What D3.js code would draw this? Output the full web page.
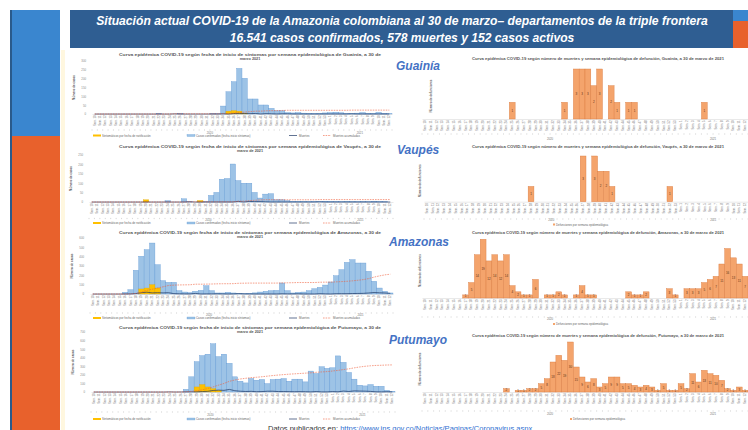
<!DOCTYPE html>
<html>
<head>
<meta charset="utf-8">
<script src="https://cdn.jsdelivr.net/npm/d3@7"></script>
<style>
  body { margin: 0; background: #fff; }
  svg { display: block; font-family: 'Liberation Sans', Arial, sans-serif; }
</style>
</head>
<body>
<svg id="slide" width="748" height="430"></svg>
<script>
// semanas epidemiologicas: 2020 SE10 .. 2021 SE12
var weeks = [10,11,12,13,14,15,16,17,18,19,20,21,22,23,24,25,26,27,28,29,30,31,32,33,34,35,36,37,38,39,40,41,42,43,44,45,46,47,48,49,50,51,52,53,
             1,2,3,4,5,6,7,8,9,10,11,12];
var years = ["2020", "2021"];

var guainiaCasos = [0,0,0,0,0,0,0,0,0,0,0,0,3,0,0,0,3,0,0,0,0,0,3,1,
                    45,126,183,258,202,85,85,51,51,32,19,19,
                    8,6,8,5,4,3,4,6,8,10,7,4,3,5,8,4,3,9,4,2];
var guainiaSint = [0,0,0,0,0,0,0,0,0,0,0,0,0,0,0,0,0,0,0,0,0,0,0,0,0,16,19,16,5,
                   0,0,0,0,0,0,0,0,0,0,0,0,0,0,0,0,0,0,0,0,0,0,0,0,0,0,0];
var guainiaMuertes = [0,0,0,0,0,0,0,0,0,0,0,0,0,0,0,1,0,0,0,0,0,0,0,0,1,0,3,3,3,2,3,0,2,1,0,1,1,
                      0,0,0,0,0,0,0,0,0,0,0,1,0,0,0,0,0,0,0];
var guainiaAcum = [0,0,0,0,0,0,0,0,0,0,0,0,0,0,0,1,1,1,1,1,1,1,1,1,2,2,5,8,11,13,16,16,18,19,19,20,
                   21,21,21,21,21,21,21,21,21,21,21,21,22,22,22,22,22,22,22,22];

var vaupesCasos = [0,0,0,0,0,0,0,0,0,0,2,0,0,0,7,0,0,17,2,0,3,2,
                   35,51,121,125,202,114,100,100,51,21,42,44,12,12,7,
                   4,3,3,2,3,2,4,3,2,2,3,2,1,2,1,4,2,1,0];
var vaupesSint = [0,0,0,0,0,0,0,0,0,0,12,0,0,0,0,0,0,0,0,0,8,
                  0,0,0,0,0,0,0,0,0,0,0,0,0,0,0,0,0,0,0,0,0,0,0,0,0,0,0,0,0,0,0,0,0,0,0];
var vaupesMuertes = [0,0,0,0,0,0,0,0,0,0,0,0,0,0,0,0,0,0,1,0,0,0,0,0,0,0,0,3,0,3,2,2,1,
                     0,0,0,0,0,0,0,0,0,1,0,0,0,0,0,0,0,0,0,0,0,0,0];
var vaupesAcum = [0,0,0,0,0,0,0,0,0,0,0,0,0,0,0,0,0,0,1,1,1,1,1,1,1,1,1,4,4,7,9,11,
                  12,12,12,12,12,12,12,12,12,12,13,13,13,13,13,13,13,13,13,13,13,13,13,13];

var amazonasCasos = [0,0,0,0,0,0,18,46,254,404,475,546,314,143,125,125,
                     36,21,15,29,39,89,36,11,11,18,11,
                     6,5,8,12,21,29,36,39,118,36,11,18,21,36,57,71,96,129,196,261,339,368,332,332,243,136,64,29,11];
var amazonasSint = [0,0,0,0,0,0,0,0,0,54,64,100,64,
                    0,0,0,0,0,0,0,0,0,0,0,0,0,0,0,0,0,0,0,0,0,0,0,0,0,0,0,0,0,0,0,0,0,0,0,0,0,0,0,0,0,0,0];
var amazonasMuertes = [0,0,0,0,0,0,0,1,5,14,19,12,14,12,14,4,2,1,1,6,0,1,1,2,1,0,1,4,1,1,
                       0,0,0,0,0,2,1,1,2,0,0,0,3,1,0,3,3,3,5,6,7,11,16,13,11,7];
var amazonasAcum = [0,0,0,0,0,0,0,1,6,20,39,51,65,77,91,95,97,98,99,105,105,106,107,109,110,110,111,115,116,117,
                    117,117,117,117,117,119,120,121,123,123,123,123,126,127,127,130,133,136,141,147,154,165,181,194,205,212];

var putumayoCasos = [0,0,0,0,0,0,0,0,0,0,0,0,0,0,0,0,0,
                     31,177,354,425,441,563,413,441,335,177,126,106,157,138,146,98,146,150,157,126,150,150,118,
                     244,216,295,276,283,421,346,228,150,79,71,87,67,67,20,8];
var putumayoSint = [0,0,0,0,0,0,0,0,0,0,0,0,0,0,0,0,0,0,0,59,87,59,39,20,
                    0,0,0,0,0,0,0,0,0,0,0,0,0,0,0,0,0,0,0,0,0,0,0,0,0,0,0,0,0,0,0,0];
var putumayoMuertes = [0,0,0,0,0,0,0,0,0,0,0,0,0,0,2,0,1,1,2,2,5,8,18,22,19,30,15,9,6,8,3,5,9,9,5,5,4,3,4,3,1,5,1,1,5,2,
                       11,6,13,11,10,7,2,1,3,1];
var putumayoAcum = [0,0,0,0,0,0,0,0,0,0,0,0,0,0,0,0,0,
                    3,8,15,25,40,60,80,100,125,140,152,160,168,172,178,185,192,198,203,208,212,216,220,224,
                    230,234,238,245,252,262,270,282,292,300,306,310,312,315,316];

var svg = d3.select("#slide");
var split = weeks.indexOf(1);
var idx = d3.range(weeks.length);

// ---- decoration of the slide ----
svg.append("rect").attr("x", 10).attr("y", 10).attr("width", 2).attr("height", 420).attr("fill", "#2a5a8b");
svg.append("rect").attr("x", 12).attr("y", 10).attr("width", 48).attr("height", 126).attr("fill", "#3a86cf");
svg.append("rect").attr("x", 12).attr("y", 136).attr("width", 48).attr("height", 294).attr("fill", "#e8612c");
svg.append("rect").attr("x", 61).attr("y", 50).attr("width", 4).attr("height", 380).attr("fill", "#fff7df");
svg.append("rect").attr("x", 70).attr("y", 10).attr("width", 663).attr("height", 38).attr("fill", "#2f5e92");
svg.append("rect").attr("x", 733).attr("y", 10).attr("width", 15).attr("height", 11).attr("fill", "#3a86cf");
svg.append("rect").attr("x", 733).attr("y", 21).attr("width", 15).attr("height", 27).attr("fill", "#e8612c");

// titulo: fuente condensada simulada con escala horizontal
var head = svg.append("g")
    .attr("fill", "#fff")
    .attr("font-family", "'Liberation Sans Narrow', 'Arial Narrow', 'Liberation Sans', sans-serif")
    .attr("font-weight", "bold")
    .attr("font-style", "italic")
    .attr("font-size", 13.5)
    .attr("text-anchor", "middle");
[["Situación actual COVID-19 de la Amazonia colombiana al 30 de marzo– departamentos de la triple frontera", 25, 612],
 ["16.541 casos confirmados, 578 muertes y 152 casos activos", 42, 345]].forEach(function(t){
  var el = head.append("text").attr("x", 0).attr("y", 0).text(t[0]);
  var s = t[2] / el.node().getComputedTextLength();
  el.attr("transform", "translate(402," + t[1] + ") scale(" + s + ",1)");
});

function categoryAxis(g, x, base, cfg){
  var ax = g.append("g")
      .attr("transform", "translate(0," + base + ")")
      .call(d3.axisBottom(x).tickSize(0).tickFormat(function(i){ return "Sem. " + weeks[i]; }));
  ax.select(".domain").attr("stroke", "#c8c8c8").attr("stroke-width", 0.4);
  ax.selectAll("text")
      .attr("font-size", 2.8)
      .attr("fill", "#777")
      .attr("transform", "rotate(-90)")
      .attr("x", -1.5).attr("y", 0).attr("dy", "0.35em")
      .style("text-anchor", "end");

  g.selectAll(".sep").data(d3.range(weeks.length + 1)).join("line")
      .attr("x1", function(i){ return x.range()[0] + i * x.step(); })
      .attr("x2", function(i){ return x.range()[0] + i * x.step(); })
      .attr("y1", cfg.dashY - 0.6).attr("y2", cfg.dashY + 0.6)
      .attr("stroke", "#999").attr("stroke-width", 0.4);

  var spans = [[0, split], [split, weeks.length]];
  g.selectAll(".yr").data(years).join("text")
      .attr("x", function(d, k){ return (x(spans[k][0]) + x(spans[k][1] - 1) + x.bandwidth()) / 2; })
      .attr("y", cfg.yearY)
      .attr("text-anchor", "middle")
      .attr("font-size", 2.8)
      .attr("fill", "#777")
      .text(function(d){ return d; });
}

function smallTitle(g, lines, cx, y, width){
  lines.forEach(function(t, k){
    var el = g.append("text").attr("x", cx).attr("y", y + k * 4)
        .attr("text-anchor", "middle").attr("font-size", 3.8).attr("font-weight", "bold")
        .attr("fill", "#555").text(t);
    if (k === 0) el.attr("textLength", width).attr("lengthAdjust", "spacingAndGlyphs");
  });
}

// ---- casos (izquierda) ----
function casesChart(cfg){
  var g = svg.append("g");
  var x = d3.scaleBand().domain(idx).range([cfg.x0, cfg.x1]);
  var y = d3.scaleLinear().domain([0, cfg.ymax]).range([cfg.base, cfg.top]);

  smallTitle(g, ["Curva epidémica COVID-19 según fecha de inicio de síntomas por semana epidemiológica de " + cfg.name + ", a 30 de",
                 cfg.name === "Guainía" ? "marzo 2021" : "marzo de 2021"], 250, cfg.titleY, 262);

  var ya = g.append("g")
      .attr("transform", "translate(" + (cfg.x0 - 6) + ",0)")
      .call(d3.axisLeft(y).tickValues(d3.range(0, cfg.ymax + 1, cfg.step)).tickSize(0).tickPadding(0));
  ya.select(".domain").remove();
  ya.selectAll("text").attr("font-size", 2.8).attr("fill", "#888");

  g.append("text")
      .attr("transform", "translate(" + (cfg.x0 - 17) + "," + ((cfg.top + cfg.base) / 2) + ") rotate(-90)")
      .attr("text-anchor", "middle").attr("font-size", 3).attr("font-weight", "bold").attr("fill", "#555")
      .text("Número de casos");

  categoryAxis(g, x, cfg.base, cfg);

  g.selectAll(".casos").data(cfg.casos.map(function(v, i){ return {i: i, v: v}; }).filter(function(d){ return d.v > 0; }))
    .join("rect")
      .attr("x", function(d){ return x(d.i); })
      .attr("y", function(d){ return y(d.v); })
      .attr("width", x.bandwidth())
      .attr("height", function(d){ return y(0) - y(d.v); })
      .attr("fill", "#9dc3e6").attr("stroke", "#5f97d3").attr("stroke-width", 0.35);

  g.selectAll(".sint").data(cfg.sint.map(function(v, i){ return {i: i, v: v}; }).filter(function(d){ return d.v > 0; }))
    .join("rect")
      .attr("x", function(d){ return x(d.i); })
      .attr("y", function(d){ return y(d.v); })
      .attr("width", x.bandwidth())
      .attr("height", function(d){ return y(0) - y(d.v); })
      .attr("fill", "#ffc000").attr("stroke", "#e0a800").attr("stroke-width", 0.3);

  var line = d3.line()
      .x(function(d, i){ return x(i) + x.bandwidth() / 2; })
      .y(function(d){ return y(d); });

  g.append("path").datum(cfg.muertes).attr("d", line)
      .attr("fill", "none").attr("stroke", "#203864").attr("stroke-width", 0.7);
  g.append("path").datum(cfg.acum).attr("d", line)
      .attr("fill", "none").attr("stroke", "#f0603c").attr("stroke-width", 0.6).attr("stroke-dasharray", "1.6,1");

  var ly = cfg.legendY;
  var lg = g.append("g").attr("font-size", 2.9).attr("fill", "#666");
  lg.append("rect").attr("x", 93).attr("y", ly - 1).attr("width", 8).attr("height", 2).attr("fill", "#ffc000");
  lg.append("text").attr("x", 102).attr("y", ly + 1).text("Sintomáticos por fecha de notificación");
  lg.append("rect").attr("x", 187).attr("y", ly - 1).attr("width", 8).attr("height", 2).attr("fill", "#9dc3e6").attr("stroke", "#5f97d3").attr("stroke-width", 0.3);
  lg.append("text").attr("x", 196).attr("y", ly + 1).text("Casos confirmados (fecha inicio síntomas)");
  lg.append("line").attr("x1", 289).attr("x2", 297).attr("y1", ly).attr("y2", ly).attr("stroke", "#203864").attr("stroke-width", 0.7);
  lg.append("text").attr("x", 299).attr("y", ly + 1).text("Muertes");
  lg.append("line").attr("x1", 323).attr("x2", 331).attr("y1", ly).attr("y2", ly).attr("stroke", "#f0603c").attr("stroke-width", 0.6).attr("stroke-dasharray", "1.6,1");
  lg.append("text").attr("x", 333).attr("y", ly + 1).text("Muertes acumuladas");
}

// ---- defunciones (derecha) ----
function deathsChart(cfg){
  var g = svg.append("g");
  var x = d3.scaleBand().domain(idx).range([cfg.x0, cfg.x1]);
  var y = d3.scaleLinear().domain([0, d3.max(cfg.muertes)]).range([cfg.base, cfg.top]);

  smallTitle(g, ["Curva epidémica COVID-19 según número de muertes y semana epidemiológica de defunción, " + cfg.name + ", a 30 de marzo de 2021"],
             598, cfg.titleY, 252);

  g.append("text")
      .attr("transform", "translate(" + cfg.labelX + "," + ((cfg.top + cfg.base) / 2 + 2) + ") rotate(-90)")
      .attr("text-anchor", "middle").attr("font-size", 2.9).attr("font-weight", "bold").attr("fill", "#666")
      .text("Número de defunciones");

  categoryAxis(g, x, cfg.base, cfg);

  var data = cfg.muertes.map(function(v, i){ return {i: i, v: v}; }).filter(function(d){ return d.v > 0; });
  g.selectAll(".def").data(data).join("rect")
      .attr("x", function(d){ return x(d.i); })
      .attr("y", function(d){ return y(d.v); })
      .attr("width", x.bandwidth())
      .attr("height", function(d){ return y(0) - y(d.v); })
      .attr("fill", "#f4a46c").attr("stroke", "#d9793e").attr("stroke-width", 0.4);

  g.selectAll(".lbl").data(data).join("text")
      .attr("x", function(d){ return x(d.i) + x.bandwidth() / 2; })
      .attr("y", function(d){ return (y(d.v) + y(0)) / 2 + 1; })
      .attr("text-anchor", "middle").attr("font-size", 3).attr("fill", "#5a3215")
      .text(function(d){ return d.v; });

  if (cfg.legendY) {
    var lg = g.append("g").attr("font-size", 2.9).attr("fill", "#666");
    lg.append("rect").attr("x", cfg.legendX).attr("y", cfg.legendY - 1).attr("width", 2).attr("height", 2).attr("fill", "#f4a46c");
    lg.append("text").attr("x", cfg.legendX + 3).attr("y", cfg.legendY + 1).text("Defunciones por semana epidemiológica");
  }
}

casesChart({name: "Guainía", casos: guainiaCasos, sint: guainiaSint, muertes: guainiaMuertes, acum: guainiaAcum,
            ymax: 300, step: 50, x0: 92, x1: 392, top: 61, base: 114, titleY: 55.5, dashY: 130, yearY: 133.5, legendY: 135.5});
casesChart({name: "Vaupés", casos: vaupesCasos, sint: vaupesSint, muertes: vaupesMuertes, acum: vaupesAcum,
            ymax: 250, step: 50, x0: 89, x1: 393, top: 155, base: 202, titleY: 147.5, dashY: 218.5, yearY: 221, legendY: 223});
casesChart({name: "Amazonas", casos: amazonasCasos, sint: amazonasSint, muertes: amazonasMuertes, acum: amazonasAcum,
            ymax: 600, step: 100, x0: 90, x1: 393, top: 238, base: 294, titleY: 233.5, dashY: 313, yearY: 316, legendY: 318});
casesChart({name: "Putumayo", casos: putumayoCasos, sint: putumayoSint, muertes: putumayoMuertes, acum: putumayoAcum,
            ymax: 700, step: 100, x0: 91, x1: 395, top: 332, base: 392, titleY: 328.5, dashY: 412, yearY: 415.5, legendY: 419});

deathsChart({name: "Guainía", muertes: guainiaMuertes, x0: 422, x1: 748, top: 69, base: 119, titleY: 59.5,
             labelX: 432, dashY: 134, yearY: 139.5});
deathsChart({name: "Vaupés", muertes: vaupesMuertes, x0: 424, x1: 748, top: 156, base: 201.7, titleY: 147.5,
             labelX: 421, dashY: 219, yearY: 221, legendX: 553, legendY: 224.5});
deathsChart({name: "Amazonas", muertes: amazonasMuertes, x0: 422, x1: 748, top: 239.3, base: 298, titleY: 233.5,
             labelX: 421, dashY: 317, yearY: 320, legendX: 553, legendY: 324});
deathsChart({name: "Putumayo", muertes: putumayoMuertes, x0: 422, x1: 748, top: 342, base: 392, titleY: 336.5,
             labelX: 421, dashY: 411, yearY: 414.5, legendX: 570, legendY: 419});

// nombres de departamentos
var deptos = ["Guainía", "Vaupés", "Amazonas", "Putumayo"];
var deptoPos = [[396, 70], [397, 154], [389, 246], [389, 344]];
svg.selectAll(".depto").data(deptos).join("text")
    .attr("x", function(d, i){ return deptoPos[i][0]; })
    .attr("y", function(d, i){ return deptoPos[i][1]; })
    .attr("font-size", 12).attr("font-weight", "bold").attr("font-style", "italic")
    .attr("fill", "#4472c4")
    .text(function(d){ return d; });

var foot = svg.append("text").attr("x", 268).attr("y", 431).attr("font-size", 7.5).attr("fill", "#333");
foot.append("tspan").text("Datos publicados en: ");
foot.append("tspan").attr("fill", "#2f6fd0").attr("text-decoration", "underline")
    .text("https://www.ins.gov.co/Noticias/Paginas/Coronavirus.aspx");
</script>
</body>
</html>
